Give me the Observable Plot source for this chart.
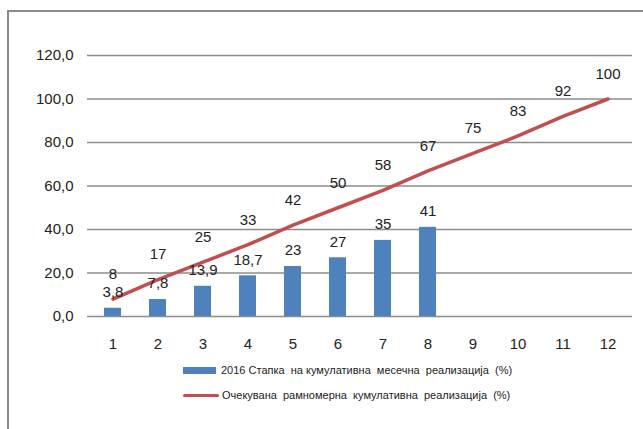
<!DOCTYPE html>
<html>
<head>
<meta charset="utf-8">
<script src="https://cdn.jsdelivr.net/npm/d3@7"></script>
<script src="https://cdn.jsdelivr.net/npm/@observablehq/plot@0.6"></script>
<style>
  html, body { margin: 0; padding: 0; background: #fff; }
  #wrap { position: relative; width: 643px; height: 429px; overflow: hidden; font-family: "Liberation Sans", Arial, sans-serif; }
  #frame { position: absolute; left: 7px; top: 10px; width: 700px; height: 500px; border-left: 2px solid #8a8a8a; border-top: 2px solid #8a8a8a; }
  #chart { position: absolute; left: 0; top: 0; }
  .leg { position: absolute; left: 183px; display: flex; align-items: center; font-size: 11px; color: #222; white-space: pre; }
  .sw-bar { width: 33px; height: 7px; background: #4F81BD; margin-right: 5px; }
  .sw-line { width: 36px; height: 3px; background: #C0504D; margin-right: 3px; border-radius: 2px; }
</style>
</head>
<body>
<div id="wrap">
  <div id="frame"></div>
  <div id="chart"></div>
  <div class="leg" style="top:364px"><div class="sw-bar"></div><span id="l1"></span></div>
  <div class="leg" style="top:389px"><div class="sw-line"></div><span id="l2"></span></div>
</div>
<script>
const months = [1, 2, 3, 4, 5, 6, 7, 8, 9, 10, 11, 12];
const actualValues = [3.8, 7.8, 13.9, 18.7, 23, 27, 35, 41];
const actualLabels = ["3,8", "7,8", "13,9", "18,7", "23", "27", "35", "41"];
const expectedValues = [8, 17, 25, 33, 42, 50, 58, 67, 75, 83, 92, 100];
const yTicks = [0, 20, 40, 60, 80, 100, 120];
const seriesNames = [
  "2016 Стапка  на кумулативна  месечна  реализација  (%)",
  "Очекувана  рамномерна  кумулативна  реализација  (%)"
];

const bars = actualValues.map((v, i) => ({month: months[i], value: v, label: actualLabels[i]}));
const line = expectedValues.map((v, i) => ({month: months[i], value: v, label: String(v)}));

document.getElementById("l1").textContent = seriesNames[0];
document.getElementById("l2").textContent = seriesNames[1];

const plot = Plot.plot({
  width: 643,
  height: 360,
  marginLeft: 87,
  marginRight: 11,
  marginTop: 55,
  marginBottom: 44,
  style: {fontFamily: "Liberation Sans, Arial, sans-serif", fontSize: "15px", color: "#222", background: "transparent"},
  x: {type: "band", domain: months, paddingInner: 0.63, paddingOuter: 0.32, align: 0.5, label: null, tickSize: 0, tickPadding: 22},
  y: {domain: [0, 120], ticks: yTicks, label: null, tickSize: 0, tickPadding: 14,
      tickFormat: d => d3.format(".1f")(d).replace(".", ",")},
  marks: [
    Plot.ruleY(yTicks, {stroke: "#8c8c8c", strokeWidth: 1.4}),
    Plot.barY(bars, {x: "month", y: "value", fill: "#4F81BD"}),
    Plot.line(line, {x: "month", y: "value", stroke: "#C0504D", strokeWidth: 3.5}),
    Plot.text(bars, {x: "month", y: "value", text: "label", dy: -16, fill: "#222", fontSize: 15}),
    Plot.text(line, {x: "month", y: "value", text: "label", dy: -25, fill: "#222", fontSize: 15})
  ]
});
document.getElementById("chart").appendChild(plot);
</script>
</body>
</html>
